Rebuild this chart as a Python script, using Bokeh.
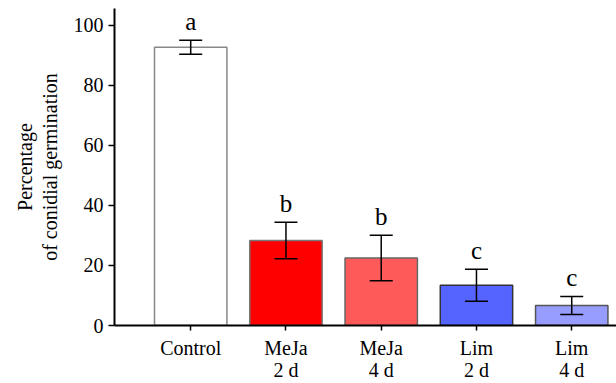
from bokeh.plotting import figure
from bokeh.models import ColumnDataSource, Range1d, FixedTicker, Whisker, TeeHead
from bokeh.core.properties import value
from bokeh.embed import file_html
from bokeh.resources import INLINE

categories = ["Control", "MeJa\n2 d", "MeJa\n4 d", "Lim\n2 d", "Lim\n4 d"]
means = [92.7, 28.3, 22.5, 13.4, 6.7]
errors = [2.3, 6.1, 7.6, 5.3, 3.0]
letters = ["a", "b", "b", "c", "c"]
fill_colors = ["#ffffff", "#ff0000", "#ff5a5a", "#5563ff", "#979cff"]
line_colors = ["#888888", "#777777", "#666666", "#333333", "#555555"]
y_ticks = [0, 20, 40, 60, 80, 100]

xs = list(range(len(categories)))
upper = [m + e for m, e in zip(means, errors)]
lower = [m - e for m, e in zip(means, errors)]
letter_y = [u + 1.8 for u in upper]

src = ColumnDataSource(dict(x=xs, top=means, upper=upper, lower=lower,
                            fill=fill_colors, line=line_colors,
                            ly=letter_y, lt=letters))

p = figure(width=616, height=383, output_backend="svg", toolbar_location=None,
           x_range=Range1d(-0.8, 4.47), y_range=Range1d(0, 105.6))
p.min_border_left = 114
p.min_border_top = 8
p.min_border_right = 0
p.min_border_bottom = 57
p.outline_line_color = None
p.background_fill_color = "white"
p.border_fill_color = "white"
p.xgrid.visible = False
p.ygrid.visible = False

p.vbar(x="x", top="top", width=0.76, bottom=0, source=src,
       fill_color="fill", line_color="line", line_width=1.5)

w = Whisker(base="x", upper="upper", lower="lower", source=src,
            line_color="black", line_width=1.5, level="overlay",
            upper_head=TeeHead(size=23, line_color="black", line_width=1.5),
            lower_head=TeeHead(size=23, line_color="black", line_width=1.5))
p.add_layout(w)

p.text(x="x", y="ly", text="lt", source=src, text_align="center",
       text_baseline="bottom", text_font=value("Liberation Serif"),
       text_font_size="25px", text_color="black")

font = "Liberation Serif"
for ax in (p.xaxis[0], p.yaxis[0]):
    ax.axis_line_width = 2
    ax.axis_line_color = "black"
    ax.major_tick_line_color = "black"
    ax.major_tick_line_width = 1.5
    ax.major_tick_in = 0
    ax.minor_tick_line_color = None
    ax.major_label_text_font = font
    ax.major_label_text_font_size = "20px"
    ax.major_label_text_color = "black"

p.yaxis.ticker = FixedTicker(ticks=y_ticks)
p.yaxis.major_tick_out = 6
p.yaxis.major_label_standoff = 5
p.yaxis.axis_label = "Percentage\nof conidial germination"
p.yaxis.axis_label_text_font = font
p.yaxis.axis_label_text_font_size = "20px"
p.yaxis.axis_label_text_font_style = "normal"
p.yaxis.axis_label_text_color = "black"
p.yaxis.axis_label_text_line_height = 1.1
p.yaxis.axis_label_standoff = 10

p.xaxis.ticker = FixedTicker(ticks=xs)
p.xaxis.major_label_overrides = {i: c for i, c in zip(xs, categories)}
p.xaxis.major_tick_out = 5
p.xaxis.major_label_standoff = 6
p.xaxis.major_label_text_line_height = 1.0

open("out.html", "w").write(file_html(p, INLINE))
